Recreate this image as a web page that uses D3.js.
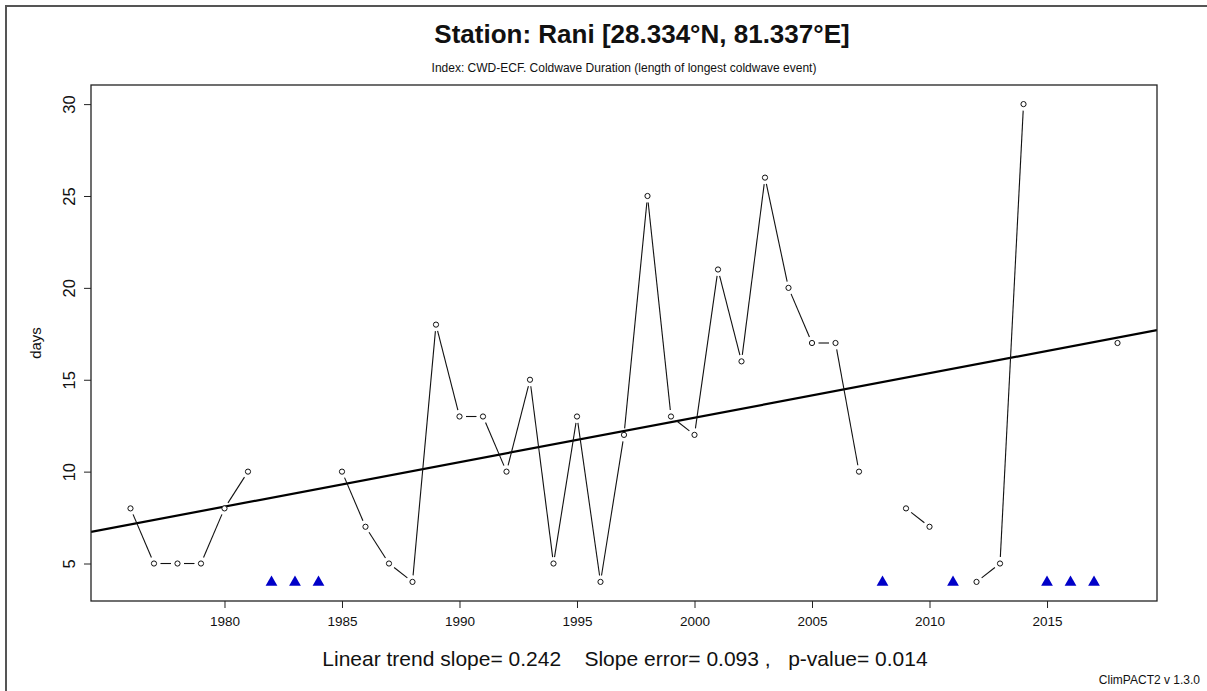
<!DOCTYPE html>
<html><head><meta charset="utf-8">
<script src="https://cdn.jsdelivr.net/npm/d3@7"></script>
<style>body{margin:0;background:#fff}svg{display:block;font-family:"Liberation Sans",Arial,sans-serif}</style>
</head><body>
<script>
const years = [1976,1977,1978,1979,1980,1981,1982,1983,1984,1985,1986,1987,1988,1989,1990,1991,1992,1993,1994,1995,1996,1997,1998,1999,2000,2001,2002,2003,2004,2005,2006,2007,2008,2009,2010,2011,2012,2013,2014,2015,2016,2017,2018];
const values = [8,5,5,5,8,10,null,null,null,10,7,5,4,18,13,13,10,15,5,13,4,12,25,13,12,21,16,26,20,17,17,10,null,8,7,null,4,5,30,null,null,null,17];
const xTicks = [1980,1985,1990,1995,2000,2005,2010,2015];
const yTicks = [5,10,15,20,25,30];
const trendSlope = 0.242;
const trendMidYear = 1997;
const trendMidValue = 12.21;
const missingMarkerValue = 4;
const title = "Station: Rani [28.334°N, 81.337°E]";
const subtitle = "Index: CWD-ECF. Coldwave Duration (length of longest coldwave event)";
const yLabel = "days";
const footer = "Linear trend slope= 0.242    Slope error= 0.093 ,   p-value= 0.014";
const credit = "ClimPACT2 v 1.3.0";

const W = 1207, H = 691;
const L = 91, R = 1157, T = 85, B = 601;
const svg = d3.select("body").append("svg").attr("width", W).attr("height", H);

// outer frame
svg.append("path").attr("d", `M6,${H} V6 H${W}`).attr("fill","none").attr("stroke","#555").attr("stroke-width",2);

const xDom = [1976, 2018], yDom = [4, 30];
const xPad = (xDom[1]-xDom[0])*0.04, yPad = (yDom[1]-yDom[0])*0.04;
const x = d3.scaleLinear().domain([xDom[0]-xPad, xDom[1]+xPad]).range([L, R]);
const y = d3.scaleLinear().domain([yDom[0]-yPad, yDom[1]+yPad]).range([B, T]);

svg.append("defs").append("clipPath").attr("id","clip").append("rect").attr("x",L).attr("y",T).attr("width",R-L).attr("height",B-T);

// trend line
const tx = x.domain();
svg.append("line").attr("clip-path","url(#clip)")
  .attr("x1", x(tx[0])).attr("y1", y(trendMidValue + trendSlope*(tx[0]-trendMidYear)))
  .attr("x2", x(tx[1])).attr("y2", y(trendMidValue + trendSlope*(tx[1]-trendMidYear)))
  .attr("stroke","#000").attr("stroke-width",2.2);

// data segments (type "b" with gaps)
const gap = 6.5;
const segs = [];
for (let i=0;i<years.length-1;i++){
  if (values[i]!=null && values[i+1]!=null){
    const x1=x(years[i]), y1=y(values[i]), x2=x(years[i+1]), y2=y(values[i+1]);
    const d=Math.hypot(x2-x1,y2-y1);
    if (d>2*gap){ const ux=(x2-x1)/d, uy=(y2-y1)/d;
      segs.push([x1+ux*gap,y1+uy*gap,x2-ux*gap,y2-uy*gap]); }
  }
}
svg.append("g").selectAll("line").data(segs).join("line")
  .attr("x1",d=>d[0]).attr("y1",d=>d[1]).attr("x2",d=>d[2]).attr("y2",d=>d[3])
  .attr("stroke","#111").attr("stroke-width",1.1);

const pts = years.map((yr,i)=>({yr,v:values[i]}));
svg.append("g").selectAll("circle").data(pts.filter(d=>d.v!=null)).join("circle")
  .attr("cx",d=>x(d.yr)).attr("cy",d=>y(d.v)).attr("r",2.6)
  .attr("fill","#fff").attr("stroke","#111").attr("stroke-width",1);

// missing markers
const tri = d3.symbol().type(d3.symbolTriangle).size(60);
svg.append("g").selectAll("path").data(pts.filter(d=>d.v==null)).join("path")
  .attr("d", tri).attr("transform", d=>`translate(${x(d.yr)},${y(missingMarkerValue)+0.5})`)
  .attr("fill","#0000c8");

// plot box
svg.append("rect").attr("x",L).attr("y",T).attr("width",R-L).attr("height",B-T).attr("fill","none").attr("stroke","#222").attr("stroke-width",1.3);

// axes
const xa = svg.append("g").attr("transform",`translate(0,${B})`)
  .call(d3.axisBottom(x).tickValues(xTicks).tickFormat(d3.format("d")).tickSize(7).tickPadding(8));
xa.select(".domain").remove();
xa.selectAll("text").attr("font-size",13.5).attr("fill","#111").attr("font-family","Liberation Sans, Arial, sans-serif");
xa.selectAll("line").attr("stroke","#222");

const ya = svg.append("g").attr("transform",`translate(${L},0)`)
  .call(d3.axisLeft(y).tickValues(yTicks).tickSize(7).tickFormat(d3.format("d")));
ya.select(".domain").remove();
ya.selectAll("line").attr("stroke","#222");
ya.selectAll("text").attr("font-size",16.5).attr("fill","#111").attr("font-family","Liberation Sans, Arial, sans-serif")
  .attr("text-anchor","middle").attr("x",null).attr("dy",null)
  .attr("transform","translate(-22,0) rotate(-90)").attr("dominant-baseline","central");

// texts
svg.append("text").attr("x",(L+R)/2+18).attr("y",43).attr("text-anchor","middle")
  .attr("font-size",26).attr("font-weight","bold").attr("fill","#111").text(title);
svg.append("text").attr("x",(L+R)/2).attr("y",72).attr("text-anchor","middle")
  .attr("font-size",12).attr("fill","#111").text(subtitle);
svg.append("text").attr("transform",`translate(41,${(T+B)/2}) rotate(-90)`).attr("text-anchor","middle")
  .attr("font-size",15).attr("fill","#111").text(yLabel);
svg.append("text").attr("x",(L+R)/2+1).attr("y",666).attr("text-anchor","middle")
  .attr("font-size",21).attr("fill","#111").attr("xml:space","preserve").style("white-space","pre").text(footer);
svg.append("text").attr("x",1200).attr("y",684).attr("text-anchor","end")
  .attr("font-size",12).attr("fill","#111").text(credit);
</script>
</body></html>
